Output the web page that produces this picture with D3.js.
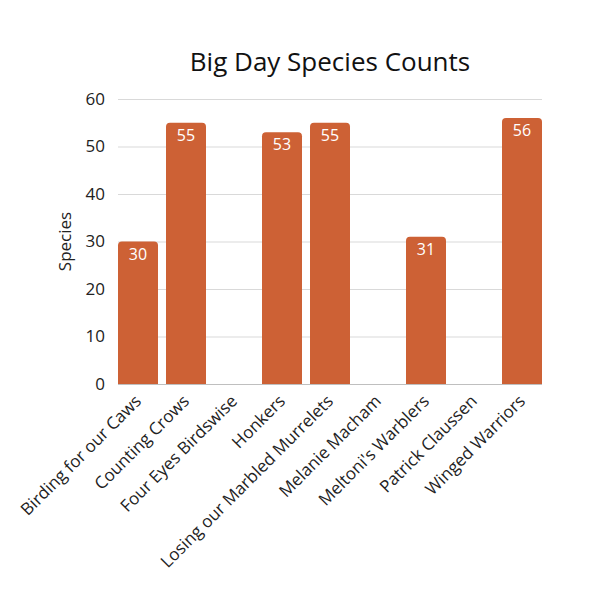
<!DOCTYPE html>
<html>
<head>
<meta charset="utf-8">
<script src="https://cdn.jsdelivr.net/npm/d3@7"></script>
<style>
  body { margin: 0; background: #fff; }
</style>
</head>
<body>
<div id="chart"></div>
<script>
const teams = [
  "Birding for our Caws", "Counting Crows", "Four Eyes Birdswise", "Honkers",
  "Losing our Marbled Murrelets", "Melanie Macham", "Meltoni's Warblers",
  "Patrick Claussen", "Winged Warriors"
]
const species = [30, 55, 0, 53, 55, 0, 31, 0, 56]
const yTicks = [0, 10, 20, 30, 40, 50, 60]

const width = 600
const height = 600
const margin = { top: 99, right: 58, bottom: 216, left: 118 }
const barColor = "#cd6135"

const svg = d3.select("#chart")
  .append("svg")
  .attr("width", width)
  .attr("height", height)

const x = d3.scaleBand()
  .domain(teams)
  .range([margin.left, width - margin.right])
  .paddingInner(8 / 48)
  .paddingOuter(0)

const y = d3.scaleLinear()
  .domain([0, 60])
  .range([height - margin.bottom, margin.top])

// grid
svg.append("g")
  .selectAll("line")
  .data(yTicks)
  .join("line")
  .attr("x1", margin.left)
  .attr("x2", width - margin.right)
  .attr("y1", d => y(d) + 0.5)
  .attr("y2", d => y(d) + 0.5)
  .attr("stroke", d => d === 0 ? "#bfbfbf" : "#d9d9d9")
  .attr("stroke-width", 1)

// y tick labels
svg.append("g")
  .selectAll("text")
  .data(yTicks)
  .join("text")
  .attr("x", 105)
  .attr("y", d => y(d))
  .attr("dy", "0.35em")
  .attr("text-anchor", "end")
  .attr("font-family", "Open Sans")
  .attr("font-size", 17)
  .attr("fill", "#222")
  .text(d => d)

// bars with rounded tops
const r = 4
const data = teams.map((t, i) => ({ team: t, value: species[i] }))
svg.append("g")
  .selectAll("path")
  .data(data.filter(d => d.value > 0))
  .join("path")
  .attr("fill", barColor)
  .attr("d", d => {
    const x0 = x(d.team), x1 = x0 + x.bandwidth()
    const y0 = y(0), y1 = y(d.value)
    return `M${x0},${y0}V${y1 + r}Q${x0},${y1} ${x0 + r},${y1}H${x1 - r}Q${x1},${y1} ${x1},${y1 + r}V${y0}Z`
  })

// value labels
svg.append("g")
  .selectAll("text")
  .data(data.filter(d => d.value > 0))
  .join("text")
  .attr("x", d => x(d.team) + x.bandwidth() / 2)
  .attr("y", d => y(d.value) + 18)
  .attr("text-anchor", "middle")
  .attr("font-family", "Open Sans")
  .attr("font-size", 16)
  .attr("fill", "#fff")
  .text(d => d.value)

// x labels, rotated
svg.append("g")
  .selectAll("text")
  .data(teams)
  .join("text")
  .attr("transform", d => `translate(${x(d) + x.bandwidth() / 2},${y(0) + 14}) rotate(-45)`)
  .attr("text-anchor", "end")
  .attr("dy", "0.35em")
  .attr("font-family", "Open Sans")
  .attr("font-size", 17)
  .attr("fill", "#222")
  .text(d => d)

// y axis title
svg.append("text")
  .attr("transform", `translate(71,${(y(0) + y(60)) / 2}) rotate(-90)`)
  .attr("text-anchor", "middle")
  .attr("font-family", "Open Sans")
  .attr("font-size", 17)
  .attr("fill", "#222")
  .text("Species")

// title
svg.append("text")
  .attr("x", (margin.left + width - margin.right) / 2)
  .attr("y", 71)
  .attr("text-anchor", "middle")
  .attr("font-family", "Open Sans")
  .attr("font-size", 26)
  .attr("fill", "#111")
  .text("Big Day Species Counts")
</script>
</body>
</html>
